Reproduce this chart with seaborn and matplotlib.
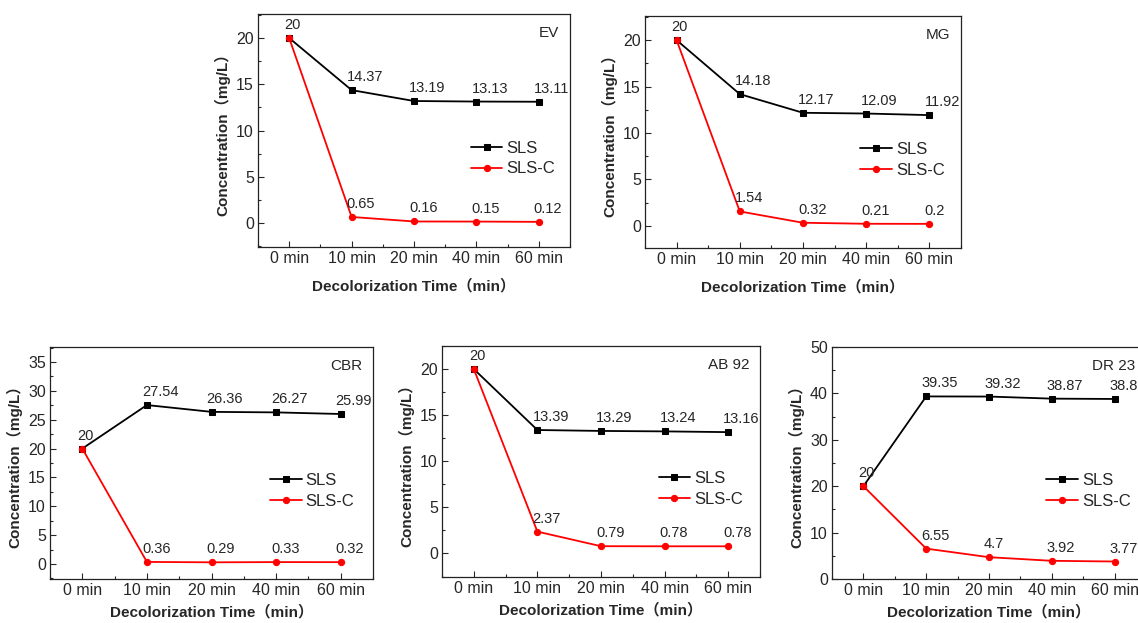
import pandas as pd
import seaborn as sns
import matplotlib.pyplot as plt
from matplotlib.ticker import MultipleLocator

# datos
times = ['0 min', '10 min', '20 min', '40 min', '60 min']
series_names = ['SLS', 'SLS-C']

ev_sls = [20, 14.37, 13.19, 13.13, 13.11]
ev_slsc = [20, 0.65, 0.16, 0.15, 0.12]
mg_sls = [20, 14.18, 12.17, 12.09, 11.92]
mg_slsc = [20, 1.54, 0.32, 0.21, 0.2]
cbr_sls = [20, 27.54, 26.36, 26.27, 25.99]
cbr_slsc = [20, 0.36, 0.29, 0.33, 0.32]
ab92_sls = [20, 13.39, 13.29, 13.24, 13.16]
ab92_slsc = [20, 2.37, 0.79, 0.78, 0.78]
dr23_sls = [20, 39.35, 39.32, 38.87, 38.8]
dr23_slsc = [20, 6.55, 4.7, 3.92, 3.77]

panels = [
    ('EV', ev_sls, ev_slsc, (-2.6, 22.6), 5),
    ('MG', mg_sls, mg_slsc, (-2.4, 22.6), 5),
    ('CBR', cbr_sls, cbr_slsc, (-2.6, 37.6), 5),
    ('AB 92', ab92_sls, ab92_slsc, (-2.55, 22.5), 5),
    ('DR 23', dr23_sls, dr23_slsc, (0, 50), 10),
]

# cajas de los ejes en pixeles: izquierda, arriba, derecha, abajo
W, H = 1138, 623
boxes = [
    (258, 14, 570, 247),
    (645, 16, 961, 248),
    (50, 347, 373, 579),
    (442, 346, 760, 577),
    (832, 347, 1146, 579),
]

sns.set_style('ticks')
plt.rcParams['font.family'] = ['Liberation Sans', 'Noto Sans CJK SC', 'DejaVu Sans']

fig = plt.figure(figsize=(W / 100, H / 100), dpi=100)
colors = {'SLS': 'black', 'SLS-C': '#ff0000'}
marks = {'SLS': 's', 'SLS-C': 'o'}

for k, ((name, sls, slsc, ylim, step), (l, t, r, b)) in enumerate(zip(panels, boxes)):
    ax = fig.add_axes([l / W, 1 - b / H, (r - l) / W, (b - t) / H])
    df = pd.DataFrame({'pos': list(range(len(times))) * 2,
                       'conc': sls + slsc,
                       'serie': ['SLS'] * len(sls) + ['SLS-C'] * len(slsc)})
    for s in series_names:
        d = df[df['serie'] == s]
        sns.lineplot(data=d, x='pos', y='conc', color=colors[s], marker=marks[s],
                     markersize=4.5, markeredgecolor=colors[s], linewidth=1.3,
                     label=s, ax=ax)
    # etiquetas de valores
    for s in series_names:
        d = df[df['serie'] == s]
        for i, (x, y) in enumerate(zip(d['pos'], d['conc'])):
            if s == 'SLS-C' and i == 0:
                continue
            ax.annotate(f'{y:g}', (x, y), xytext=(-5, 6), textcoords='offset pixels',
                        ha='left', va='bottom', fontsize=10.5)
    ax.set_xlim(-0.5, 4.5)
    ax.set_ylim(*ylim)
    ax.set_xticks(range(len(times)))
    ax.set_xticklabels(times)
    ax.xaxis.set_minor_locator(MultipleLocator(0.5))
    ax.yaxis.set_major_locator(MultipleLocator(step))
    ax.yaxis.set_minor_locator(MultipleLocator(step / 2))
    ax.tick_params(which='both', direction='in', labelsize=11.5, pad=3, width=0.8)
    ax.tick_params(which='major', length=4)
    ax.tick_params(which='minor', length=2.5)
    for sp in ax.spines.values():
        sp.set_linewidth(0.9)
        sp.set_color('#222222')
    ax.set_xlabel('Decolorization Time（min）', fontsize=11, fontweight='bold',
                  labelpad=9 if k < 2 else 5)
    ax.set_ylabel('Concentration（mg/L）', fontsize=11, fontweight='bold', labelpad=4)
    ax.annotate(name, (1, 1), xycoords='axes fraction', xytext=(-11, -19),
                textcoords='offset pixels', ha='right', va='center', fontsize=11)
    ax.legend(loc='center left', bbox_to_anchor=(0.655, 0.38), frameon=False,
              fontsize=12, borderpad=0, handlelength=1.9, handletextpad=0.25,
              labelspacing=0.35)

fig.savefig('out.png', dpi=100)
